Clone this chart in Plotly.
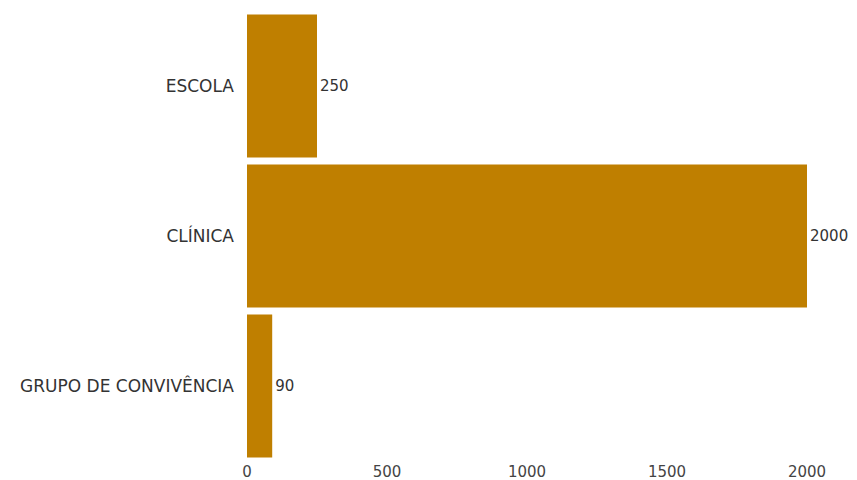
import plotly.graph_objects as go

categories = ["ESCOLA", "CLÍNICA", "GRUPO DE CONVIVÊNCIA"]
values = [250, 2000, 90]
tick_vals = [0, 500, 1000, 1500, 2000]

fig = go.Figure(go.Bar(
    y=categories,
    x=values,
    orientation="h",
    marker=dict(color="#BF7F00", line=dict(width=0)),
    text=[str(v) for v in values],
    textposition="outside",
    textfont=dict(family="DejaVu Sans", size=15, color="#333333"),
    cliponaxis=False,
    constraintext="none",
))

fig.update_layout(
    width=857, height=480,
    margin=dict(l=247, r=50, t=11, b=19, autoexpand=False),
    paper_bgcolor="white", plot_bgcolor="white",
    font=dict(family="DejaVu Sans", size=15, color="#444444"),
    bargap=0.047,
    showlegend=False,
)
fig.update_xaxes(range=[0, 2000], tickvals=tick_vals, showgrid=False, zeroline=False,
                 showline=False, ticks="", automargin=False,
                 tickfont=dict(family="DejaVu Sans", size=15, color="#444444"))
fig.update_yaxes(autorange="reversed", showgrid=False, zeroline=False, showline=False,
                 ticks="", ticklabelstandoff=12, automargin=False,
                 tickfont=dict(family="DejaVu Sans", size=17, color="#333333"))

fig.write_html("out.html")
